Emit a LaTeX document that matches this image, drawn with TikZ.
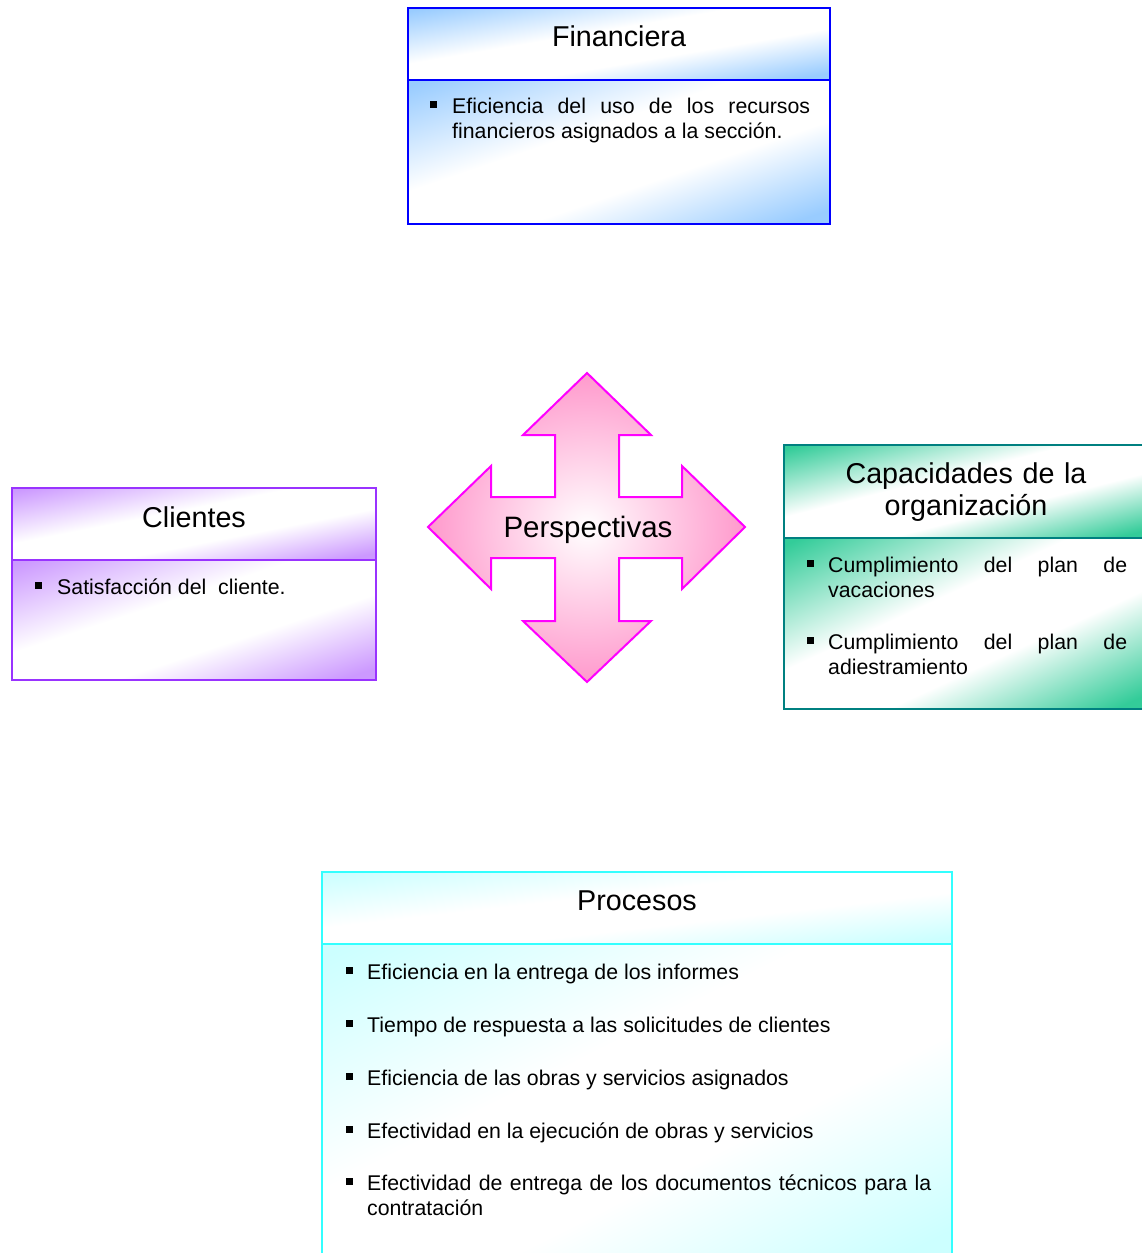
\documentclass[tikz,border=0pt]{standalone}
\usepackage{fontspec}
\setmainfont{Liberation Sans}
\hyphenpenalty=10000
\exhyphenpenalty=10000
\tolerance=9999
\hbadness=10000
\definecolor{finfill}{RGB}{153,204,255}
\definecolor{finline}{RGB}{0,0,255}
\definecolor{clifill}{RGB}{204,153,255}
\definecolor{cliline}{RGB}{153,51,255}
\definecolor{capfill}{RGB}{51,204,153}
\definecolor{capline}{RGB}{0,128,128}
\definecolor{profill}{RGB}{204,255,255}
\definecolor{proline}{RGB}{51,255,255}
\definecolor{perfill}{RGB}{255,153,204}
\definecolor{perline}{RGB}{255,0,255}
\colorlet{boxc}{finfill}
\pgfdeclareverticalshading[boxc]{diagshade}{100bp}{color(0bp)=(boxc); color(18bp)=(boxc); color(40bp)=(white); color(58bp)=(white); color(84bp)=(boxc); color(100bp)=(boxc)}
% shaded section: x1,y1,x2,y2,colour (isolines parallel to the lower-left/upper-right diagonal)
\newcommand\gradsect[5]{%
  \shade[transform canvas={shift={({(#1+#3)/2},{(#2+#4)/2})}, xscale={(#3-#1)/100}, yscale={(#4-#2)/100}},
         /utils/exec={\colorlet{boxc}{#5}}, shading=diagshade, shading angle=45]
    (-50,-50) rectangle (50,50);}
\begin{document}
\begin{tikzpicture}[x=1pt,y=-1pt,
  boxline/.style={draw=#1, line width=2pt},
  titletext/.style={font=\fontsize{28.7}{32}\selectfont, inner sep=0pt, anchor=base},
  itemline/.style={font=\fontsize{21.3}{25}\selectfont, inner sep=0pt, anchor=base west},
  itempar/.style={font=\fontsize{21.3}{25}\selectfont, inner sep=0pt, anchor=base west, align=justify, text width=#1},
  bulletsq/.style={fill=black, draw=none, minimum size=7pt, inner sep=0pt}
]
\useasboundingbox (0,0) rectangle (1141,1253);

% ---------- Financiera ----------
\gradsect{408}{8}{830}{80}{finfill}
\gradsect{408}{80}{830}{224}{finfill}
\draw[boxline=finline] (408,8) rectangle (830,224);
\draw[boxline=finline] (408,80) -- (830,80);
\node[titletext] (fint) at (619,46) {Financiera};
\node[bulletsq] (finb1) at (433.5,104) {};
\node[itempar=358pt] (fin1) at (452,113) {Eficiencia del uso de los recursos financieros asignados a la sección.};

% ---------- Clientes ----------
\gradsect{12}{488}{376}{560}{clifill}
\gradsect{12}{560}{376}{680}{clifill}
\draw[boxline=cliline] (12,488) rectangle (376,680);
\draw[boxline=cliline] (12,560) -- (376,560);
\node[titletext] (clit) at (194,527) {Clientes};
\node[bulletsq] (clib1) at (38.5,585) {};
\node[itemline] (cli1) at (57,594) {Satisfacción del\ \ cliente.};

% ---------- Capacidades ----------
\gradsect{784}{445}{1152}{538}{capfill}
\gradsect{784}{538}{1152}{709}{capfill}
\draw[boxline=capline] (784,445) rectangle (1152,709);
\draw[boxline=capline] (784,538) -- (1152,538);
\node[titletext, text width=320pt, align=center] (capt) at (966,483) {Capacidades de la\\organización};
\node[bulletsq] (capb1) at (810.5,563) {};
\node[itempar=299pt] (cap1) at (828,572) {Cumplimiento del plan de vacaciones};
\node[bulletsq] (capb2) at (810.5,640) {};
\node[itempar=299pt] (cap2) at (828,649) {Cumplimiento del plan de adiestramiento};

% ---------- Procesos ----------
\gradsect{322}{872}{952}{944}{profill}
\gradsect{322}{944}{952}{1262}{profill}
\draw[boxline=proline] (322,872) rectangle (952,1262);
\draw[boxline=proline] (322,944) -- (952,944);
\node[titletext] (prot) at (637,910) {Procesos};
\node[bulletsq] (prob1) at (349.5,970) {};
\node[itemline] (pro1) at (367,979) {Eficiencia en la entrega de los informes};
\node[bulletsq] (prob2) at (349.5,1023) {};
\node[itemline] (pro2) at (367,1032) {Tiempo de respuesta a las solicitudes de clientes};
\node[bulletsq] (prob3) at (349.5,1076) {};
\node[itemline] (pro3) at (367,1085) {Eficiencia de las obras y servicios asignados};
\node[bulletsq] (prob4) at (349.5,1129) {};
\node[itemline] (pro4) at (367,1138) {Efectividad en la ejecución de obras y servicios};
\node[bulletsq] (prob5) at (349.5,1181) {};
\node[itempar=564pt] (pro5) at (367,1190) {Efectividad de entrega de los documentos técnicos para la contratación};

% ---------- Perspectivas (four-way arrow) ----------
\path[inner color=white, outer color=perfill, draw=perline, line width=2pt, line join=miter]
  (587,373) -- (651,435) -- (619,435) -- (619,497) -- (682,497) -- (682,466)
  -- (745,527) -- (682,589) -- (682,558) -- (619,558) -- (619,621) -- (651,621)
  -- (587,682) -- (523,621) -- (555,621) -- (555,558) -- (491,558) -- (491,589)
  -- (428,527) -- (491,466) -- (491,497) -- (555,497) -- (555,435) -- (523,435) -- cycle;
\node[font=\fontsize{29.5}{33}\selectfont, inner sep=0pt, anchor=base] (pert) at (588,537) {Perspectivas};
\end{tikzpicture}
\end{document}
